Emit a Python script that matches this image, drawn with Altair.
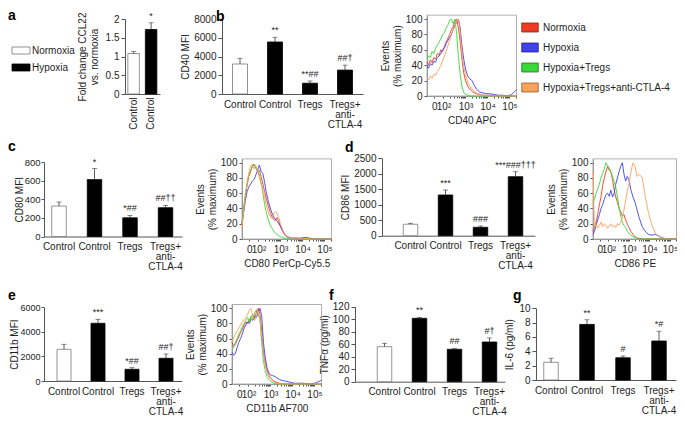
import math
import altair as alt
import pandas as pd

# ---------------- data ----------------
conds = ["Normoxia", "Hypoxia", "Hypoxia+Tregs", "Hypoxia+Tregs+anti-CTLA-4"]
cond_colors = ["#ef3b24", "#4141ec", "#38d838", "#f7a25e"]
cond_edges = ["#8a2015", "#20207a", "#1d7a1d", "#9a5a25"]

legend_a = ["Normoxia", "Hypoxia"]
legend_a_fill = ["white", "black"]

a_keys = ["n", "h"]
a_labels = ["Control", "Control"]
a_fill = ["white", "black"]
a_values = [1.08, 1.72]
a_err = [1.13, 1.90]
a_notes = ["", "*"]

bar_keys = ["n", "h", "t", "ta"]
bar_labels = ["Control", "Control", "Tregs", "Tregs+\nanti-\nCTLA-4"]
bar_fill = ["white", "black", "black", "black"]

b_values = [3200, 5550, 1150, 2550]
b_err = [3800, 6050, 1390, 3080]
b_notes = ["", "**", "**##", "##†"]

c_values = [327, 611, 201, 309]
c_err = [370, 730, 226, 334]
c_notes = ["", "*", "*##", "##††"]

d_values = [370, 1315, 271, 1906]
d_err = [400, 1476, 313, 2067]
d_notes = ["", "***", "###", "***###†††"]

e_values = [2580, 4697, 952, 1848]
e_err = [2987, 5022, 1085, 2198]
e_notes = ["", "***", "*##", "##†"]

f_values = [56, 101.4, 51.8, 63.5]
f_err = [61.4, 103, 53.4, 70]
f_notes = ["", "**", "##", "#†"]

g_values = [2.47, 7.75, 3.1, 5.44]
g_err = [3.03, 8.4, 3.35, 6.8]
g_notes = ["", "**", "#", "*#"]

# histogram x positions (decades of the biexponential axis)
HX = [1.25, 1.32, 1.40, 1.48, 1.56, 1.64, 1.72, 1.80, 1.88, 1.96, 2.04, 2.12, 2.20,
      2.28, 2.36, 2.44, 2.52, 2.60, 2.68, 2.76, 2.84, 2.92, 3.00, 3.10, 3.20, 3.30,
      3.40, 3.50, 3.65, 3.80, 3.95, 4.10, 4.30, 4.50, 4.70, 4.90, 5.10, 5.32]

b_red = [44, 40, 47, 43, 50, 48, 55, 53, 60, 58, 64, 70, 75, 80, 86, 90, 97, 100, 88, 70, 48, 30, 20, 13, 9, 6, 4, 3, 2, 1, 1, 1, 0, 0, 0, 0, 0, 0]
b_blue = [40, 36, 42, 40, 45, 44, 50, 52, 55, 60, 62, 68, 72, 76, 80, 86, 92, 96, 100, 88, 65, 48, 35, 26, 22, 20, 14, 9, 5, 4, 3, 3, 2, 1, 1, 0, 2, 8]
b_green = [48, 52, 50, 58, 55, 62, 66, 70, 74, 80, 82, 88, 92, 98, 100, 94, 100, 80, 50, 28, 12, 5, 2, 1, 0, 0, 0, 0, 0, 0, 0, 0, 0, 0, 0, 0, 0, 0]
b_orange = [24, 21, 26, 23, 28, 27, 32, 35, 40, 46, 52, 58, 65, 72, 80, 86, 92, 96, 100, 82, 55, 38, 27, 18, 13, 9, 6, 4, 2, 1, 1, 0, 0, 0, 0, 0, 0, 0]

c_red = [18, 38, 55, 70, 82, 88, 96, 98, 93, 88, 90, 82, 72, 62, 52, 44, 36, 30, 26, 24, 28, 24, 16, 10, 5, 3, 2, 1, 1, 1, 1, 2, 1, 0, 0, 0, 0, 0]
c_blue = [20, 34, 50, 62, 68, 72, 76, 78, 84, 90, 97, 88, 86, 74, 60, 50, 42, 35, 30, 26, 24, 20, 17, 11, 6, 3, 2, 1, 1, 1, 1, 2, 1, 0, 0, 0, 0, 0]
c_green = [22, 40, 58, 74, 85, 90, 94, 98, 95, 90, 84, 74, 60, 45, 34, 26, 19, 15, 11, 8, 6, 4, 3, 2, 1, 1, 0, 0, 0, 0, 0, 0, 0, 0, 0, 0, 0, 0]
c_orange = [14, 36, 56, 72, 86, 96, 98, 92, 96, 88, 80, 72, 64, 54, 44, 36, 30, 27, 32, 36, 34, 28, 20, 12, 6, 3, 2, 1, 1, 1, 1, 1, 0, 0, 0, 0, 0, 0]

d_red = [10, 15, 22, 32, 45, 55, 70, 80, 88, 95, 90, 88, 78, 65, 55, 48, 40, 36, 30, 32, 25, 20, 15, 10, 6, 3, 1, 1, 0, 0, 0, 0, 0, 0, 0, 0, 0, 0]
d_blue = [6, 10, 18, 25, 32, 40, 45, 52, 58, 60, 56, 64, 55, 60, 72, 80, 88, 95, 100, 85, 76, 82, 78, 64, 55, 48, 38, 28, 16, 10, 6, 5, 6, 3, 1, 0, 0, 0]
d_green = [48, 52, 60, 66, 72, 80, 86, 92, 100, 96, 94, 88, 82, 75, 68, 55, 42, 30, 22, 18, 15, 10, 8, 5, 3, 2, 1, 0, 0, 0, 0, 0, 0, 0, 0, 0, 0, 0]
d_orange = [90, 15, 20, 14, 18, 22, 16, 20, 18, 14, 17, 20, 16, 18, 15, 20, 18, 22, 28, 38, 50, 62, 72, 88, 100, 95, 82, 85, 80, 55, 35, 20, 7, 3, 1, 0, 0, 0]

e_red = [55, 50, 52, 58, 62, 68, 72, 78, 82, 80, 85, 88, 92, 86, 95, 100, 92, 70, 42, 28, 18, 12, 8, 5, 3, 2, 1, 0, 0, 0, 0, 0, 0, 0, 0, 0, 0, 0]
e_blue = [42, 38, 40, 48, 55, 60, 66, 74, 78, 82, 80, 86, 84, 90, 88, 94, 100, 90, 55, 35, 22, 15, 12, 11, 10, 8, 6, 5, 4, 3, 2, 1, 1, 1, 0, 0, 2, 5]
e_green = [46, 48, 55, 60, 66, 70, 76, 80, 84, 88, 82, 90, 86, 94, 98, 92, 85, 55, 30, 18, 10, 6, 4, 2, 1, 0, 0, 0, 0, 0, 0, 0, 0, 0, 0, 0, 0, 0]
e_orange = [56, 60, 66, 70, 74, 78, 82, 85, 88, 92, 98, 100, 90, 84, 92, 96, 88, 62, 40, 25, 16, 10, 7, 4, 2, 1, 0, 0, 0, 0, 0, 0, 0, 0, 0, 0, 0, 0]

hist_major = [1.58, 2, 3, 4, 5]
hist_major_text = ["0", "10²", "10³", "10⁴", "10⁵"]

# ---------------- layout helpers ----------------
M = 8
W, H = 669, 408
FONT = "Liberation Sans"
TXT = "#1e1e1e"
AXC = "#555555"
FRAME = "#9a9a9a"


def X(v):
    return v - M


def Y(v):
    return v - M


def label_expr(keys, labels):
    expr = "''"
    for k, l in reversed(list(zip(keys, labels))):
        parts = l.split("\n")
        if len(parts) > 1:
            lit = "[" + ",".join("'" + p + "'" for p in parts) + "]"
        else:
            lit = "'" + parts[0] + "'"
        expr = "datum.value == '" + k + "' ? " + lit + " : " + expr
    return expr


def bar_panel(keys, labels, values, errs, notes, fills, ax_x, ax_x1, c0, step, bw,
              y_zero, y_top, ymax, yticks, ytitle, tpad, angle=0, lpad=5, yfs=10, ytick=4, ylpad=2):
    n = len(keys)
    pin = 1 - bw / step
    L = (ax_x1 - ax_x) - step * (n - pin)
    pout = L / (2 * step)
    al = (c0 - bw / 2 - ax_x) / L
    df = pd.DataFrame({
        "key": keys, "value": values, "err": errs, "note": notes, "fill": fills,
        "edge": ["#7a7a7a" if f == "white" else "black" for f in fills],
    })
    xs = alt.Scale(type="band", domain=keys, range=[X(ax_x), X(ax_x1)],
                   paddingInner=pin, paddingOuter=pout, align=al, round=False)
    ys = alt.Scale(domain=[0, ymax], range=[Y(y_zero), Y(y_top)], nice=False, zero=True)
    xax = alt.Axis(orient="bottom", offset=Y(y_zero) - H, ticks=False, domainColor=AXC,
                   labelExpr=label_expr(keys, labels), labelFontSize=10, labelColor=TXT,
                   labelPadding=lpad, labelLineHeight=10, labelAngle=angle, title="", grid=False)
    yax = alt.Axis(orient="left", offset=-X(ax_x), values=yticks, format="~f", tickSize=ytick,
                   tickColor=AXC, domainColor=AXC, labelFontSize=yfs, labelColor=TXT,
                   labelPadding=ylpad, title=ytitle, titleFontSize=10, titleFontWeight="normal",
                   titleColor=TXT, titlePadding=tpad, grid=False)
    xe = alt.X("key:N", scale=xs, axis=xax)
    base = alt.Chart(df)
    bars = base.mark_bar(strokeWidth=0.8).encode(
        x=xe, y=alt.Y("value:Q", scale=ys, axis=yax),
        fill=alt.Fill("fill:N", scale=None), stroke=alt.Stroke("edge:N", scale=None))
    err = base.mark_rule(color="#333333", strokeWidth=0.8).encode(
        x=xe, y=alt.Y("value:Q", scale=ys, axis=yax), y2="err:Q")
    cap = base.mark_tick(color="#333333", thickness=0.8, size=5).encode(
        x=xe, y=alt.Y("err:Q", scale=ys, axis=yax))
    txt = base.mark_text(fontSize=9, baseline="bottom", dy=-2, color=TXT).encode(
        x=xe, y=alt.Y("err:Q", scale=ys, axis=yax), text="note:N")
    return alt.layer(bars, err, cap, txt)


hist_minor = [k + math.log10(m) for k in (2, 3, 4) for m in range(2, 10)] + [5 + math.log10(2)]
hist_expr = "''"
for v, t in reversed(list(zip(hist_major, hist_major_text))):
    hist_expr = "datum.value == " + repr(v) + " ? '" + t + "' : " + hist_expr


def hist_panel(curves, left, width, y_zero, y_100, xtitle):
    rows = []
    for cond, ys_ in zip(conds, curves):
        for xv, yv in zip(HX, ys_):
            rows.append({"x": xv, "y": yv, "cond": cond})
    df = pd.DataFrame(rows)
    x_lo, x_hi = 1.25, 5.32
    ytop_px = y_zero - (y_zero - y_100) * 1.05
    xs = alt.Scale(domain=[x_lo, x_hi], range=[X(left), X(left + width)], nice=False, zero=False)
    ys = alt.Scale(domain=[0, 105], range=[Y(y_zero), Y(ytop_px)], nice=False, zero=False)
    xax = alt.Axis(orient="bottom", offset=Y(y_zero) - H, values=hist_major + hist_minor,
                   labelExpr=hist_expr, tickSize=2, tickColor=AXC, domainColor=FRAME,
                   labelFontSize=10, labelColor=TXT, labelPadding=3, labelOverlap=False,
                   labelFlush=False, labelAngle=0, title=xtitle, titleFontSize=10,
                   titleFontWeight="normal", titleColor=TXT, titlePadding=4, grid=False)
    yax = alt.Axis(orient="left", offset=-X(left), values=[0, 20, 40, 60, 80, 100], tickSize=3,
                   tickColor=AXC, domainColor=FRAME, labelFontSize=10, labelColor=TXT,
                   labelPadding=2, title=["Events", "(% maximum)"], titleFontSize=10,
                   titleFontWeight="normal", titleColor=TXT, titlePadding=3, grid=False)
    lines = alt.Chart(df).mark_line(strokeWidth=0.9).encode(
        x=alt.X("x:Q", scale=xs, axis=xax), y=alt.Y("y:Q", scale=ys, axis=yax),
        color=alt.Color("cond:N", scale=alt.Scale(domain=conds, range=cond_colors), legend=None))
    fdf = pd.DataFrame({"x0": [x_lo], "x1": [x_hi], "y0": [0], "y1": [105]})
    frame = alt.Chart(fdf).mark_rect(fillOpacity=0, stroke=FRAME, strokeWidth=0.8).encode(
        x=alt.X("x0:Q", scale=xs, axis=xax), x2="x1:Q",
        y=alt.Y("y0:Q", scale=ys, axis=yax), y2="y1:Q")
    return alt.layer(frame, lines)


def legend_block(names, fills, edges, y_first, y_last, sw_x, txt_x, shape, size):
    df = pd.DataFrame({"cond": names, "fill": fills, "edge": edges})
    ye = alt.Y("cond:N", scale=alt.Scale(type="point", domain=names, range=[Y(y_first), Y(y_last)], padding=0), axis=None)
    sw = alt.Chart(df).mark_point(shape=shape, size=size, filled=True, opacity=1, strokeWidth=0.8).encode(
        x=alt.value(X(sw_x)), y=ye, fill=alt.Fill("fill:N", scale=None), stroke=alt.Stroke("edge:N", scale=None))
    tx = alt.Chart(df).mark_text(align="left", baseline="middle", fontSize=10, color=TXT).encode(
        x=alt.value(X(txt_x)), y=ye, text="cond:N")
    return alt.layer(sw, tx)


def letter(t, x, y):
    return alt.Chart(pd.DataFrame({"t": [t]})).mark_text(
        fontSize=14, fontWeight="bold", align="left", baseline="alphabetic", color="black").encode(
        x=alt.value(X(x)), y=alt.value(Y(y)), text="t:N")


panels = [
    legend_block(legend_a, legend_a_fill, ["#777777", "black"], 50.5, 67.5, 21, 32,
                 "M-1,-0.39H1V0.39H-1Z", 324),
    bar_panel(a_keys, a_labels, a_values, a_err, a_notes, a_fill, 125, 160, 133.6, 17.5, 11.5,
              94, 19, 2, [0, 0.5, 1, 1.5, 2], ["Fold change CCL22", "vs. normoxia"], 6,
              angle=270, lpad=3),
    bar_panel(bar_keys, bar_labels, b_values, b_err, b_notes, bar_fill, 222, 363, 240, 35, 15,
              94, 19, 8000, [0, 2000, 4000, 6000, 8000], "CD40 MFI", 3),
    hist_panel([b_red, b_blue, b_green, b_orange], 427, 89.5, 96, 19, "CD40 APC"),
    legend_block(conds, cond_colors, cond_edges, 27.5, 87.5, 530, 543,
                 "M-1,-0.545H1V0.545H-1Z", 272),
    bar_panel(bar_keys, bar_labels, c_values, c_err, c_notes, bar_fill, 44, 182, 59, 35.5, 14.5,
              236.5, 162, 800, [0, 200, 400, 600, 800], "CD80 MFI", 0, yfs=9.5, ytick=3, ylpad=1),
    hist_panel([c_red, c_blue, c_green, c_orange], 242, 89.5, 239, 162.7, "CD80 PerCp-Cy5.5"),
    bar_panel(bar_keys, bar_labels, d_values, d_err, d_notes, bar_fill, 382, 535, 410.5, 35, 14.5,
              235.7, 158.3, 2500, [0, 500, 1000, 1500, 2000, 2500], "CD86 MFI", 3),
    hist_panel([d_red, d_blue, d_green, d_orange], 593, 83.5, 239, 162.7, "CD86 PE"),
    bar_panel(bar_keys, bar_labels, e_values, e_err, e_notes, bar_fill, 44, 182, 64, 34, 14,
              381, 307.3, 6000, [0, 2000, 4000, 6000], "CD11b MFI", 0, yfs=9, ytick=3, ylpad=1),
    hist_panel([e_red, e_blue, e_green, e_orange], 232, 89.5, 384, 308.3, "CD11b AF700"),
    bar_panel(bar_keys, bar_labels, f_values, f_err, f_notes, bar_fill, 355, 505, 384.5, 35, 14.5,
              381.7, 306.7, 120, [0, 20, 40, 60, 80, 100, 120], "TNFα (pg/ml)", 3),
    bar_panel(bar_keys, bar_labels, g_values, g_err, g_notes, bar_fill, 536, 676, 551, 36, 14.5,
              380, 308.3, 10, [0, 2, 4, 6, 8, 10], "IL-6 (pg/ml)", 4),
    letter("a", 8, 20),
    letter("b", 216, 21),
    letter("c", 8, 151),
    letter("d", 345, 152),
    letter("e", 8, 299.5),
    letter("f", 329, 300),
    letter("g", 513, 300),
]

chart = alt.layer(*panels).resolve_scale(
    x="independent", y="independent"
).properties(
    width=W, height=H, autosize=alt.AutoSizeParams(type="none"), padding=0
).configure(font=FONT).configure_view(stroke="transparent")

chart.save("out.html", embed_options={"renderer": "svg", "actions": False})
